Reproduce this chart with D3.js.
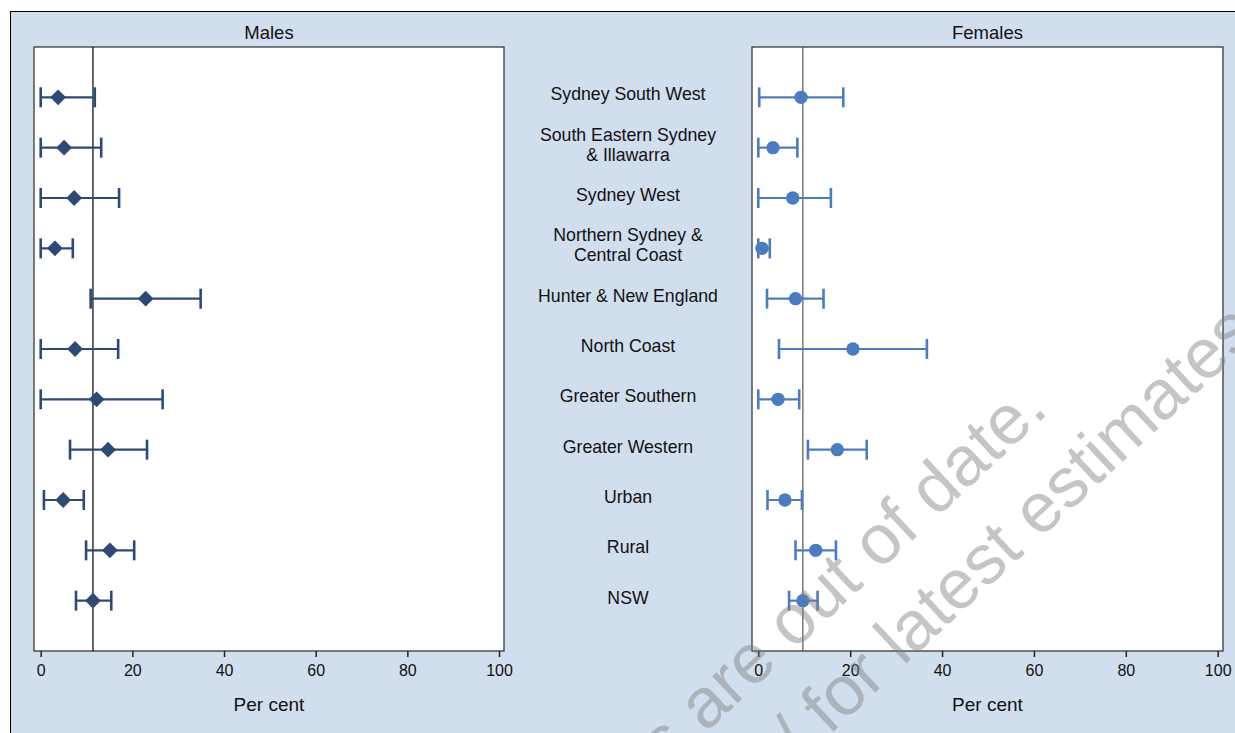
<!DOCTYPE html>
<html>
<head>
<meta charset="utf-8">
<script src="https://cdn.jsdelivr.net/npm/d3@7"></script>
<style>
  body { margin: 0; background: #fff; }
  svg text { font-family: "Liberation Sans", Arial, Helvetica, sans-serif; fill: #111; }
</style>
</head>
<body>
<svg width="1235" height="733"></svg>
<script>
// health areas, top to bottom (two-line labels split on \n)
const regions = [
  "Sydney South West",
  "South Eastern Sydney\n& Illawarra",
  "Sydney West",
  "Northern Sydney &\nCentral Coast",
  "Hunter & New England",
  "North Coast",
  "Greater Southern",
  "Greater Western",
  "Urban",
  "Rural",
  "NSW"
];

// estimates and 95% CI, per cent
const maleEst  = [3.8, 5.1, 7.3, 3.1, 22.9, 7.5, 12.2, 14.7, 4.9, 15.1, 11.4];
const maleLow  = [0, 0, 0, 0, 10.9, 0, 0, 6.4, 0.7, 9.9, 7.7];
const maleHigh = [11.8, 13.2, 17.1, 7.0, 34.9, 16.9, 26.6, 23.2, 9.4, 20.4, 15.4];

const femaleEst  = [9.3, 3.2, 7.5, 0.8, 8.1, 20.6, 4.3, 17.2, 5.8, 12.5, 9.7];
const femaleLow  = [0.2, 0, 0, 0, 1.9, 4.5, 0, 10.8, 2.0, 8.1, 6.7];
const femaleHigh = [18.5, 8.5, 15.8, 2.5, 14.2, 36.7, 8.9, 23.6, 9.5, 16.9, 12.9];

const xTicks = [0, 20, 40, 60, 80, 100];

const width = 1235;
const height = 733;
const plotTop = 47;
const plotBottom = 651;

const svg = d3.select('svg');

// light blue graph region with the black outer frame
svg.append('rect')
  .attr('x', 10.5).attr('y', 11.5)
  .attr('width', width).attr('height', height)
  .attr('fill', '#d1deed')
  .attr('stroke', '#000')
  .attr('stroke-width', 1);

const y = d3.scalePoint()
  .domain(regions)
  .range([plotTop, plotBottom])
  .padding(1);

function drawPanel(p) {
  const x = d3.scaleLinear().domain([0, 100]).range(p.range);
  const g = svg.append('g');

  g.append('rect')
    .attr('x', p.frame[0]).attr('y', plotTop)
    .attr('width', p.frame[1] - p.frame[0]).attr('height', plotBottom - plotTop)
    .attr('fill', '#fff')
    .attr('stroke', '#3a3a3a')
    .attr('stroke-width', 1.3);

  // NSW reference line
  const ref = p.est[p.est.length - 1];
  g.append('line')
    .attr('x1', x(ref)).attr('x2', x(ref))
    .attr('y1', plotTop).attr('y2', plotBottom)
    .attr('stroke', p.refColor)
    .attr('stroke-width', 1.2);

  const rows = regions.map((r, i) => ({ r, est: p.est[i], lo: p.low[i], hi: p.high[i] }));

  const bars = g.selectAll('.bar').data(rows).enter().append('g')
    .attr('stroke', p.color)
    .attr('stroke-width', 2.2);

  bars.append('line')
    .attr('x1', d => x(d.lo)).attr('x2', d => x(d.hi))
    .attr('y1', d => y(d.r)).attr('y2', d => y(d.r));
  bars.append('line')
    .attr('x1', d => x(d.lo)).attr('x2', d => x(d.lo))
    .attr('y1', d => y(d.r) - 10).attr('y2', d => y(d.r) + 10)
    .attr('stroke-width', 2.6);
  bars.append('line')
    .attr('x1', d => x(d.hi)).attr('x2', d => x(d.hi))
    .attr('y1', d => y(d.r) - 10).attr('y2', d => y(d.r) + 10)
    .attr('stroke-width', 2.6);

  g.selectAll('.pt').data(rows).enter().append('path')
    .attr('d', p.symbol)
    .attr('transform', d => `translate(${x(d.est)},${y(d.r)}) rotate(${p.rotate})`)
    .attr('fill', p.color);

  const axis = g.append('g')
    .attr('transform', `translate(0,${plotBottom})`)
    .call(d3.axisBottom(x).tickValues(xTicks).tickSize(6).tickPadding(8));
  axis.select('.domain').remove();
  axis.selectAll('.tick line').attr('stroke', '#222').attr('stroke-width', 1.5);
  axis.selectAll('.tick text')
    .attr('font-size', 16)
    .attr('font-family', '"Liberation Sans", Arial, sans-serif')
    .attr('fill', '#111');

  const mid = (p.frame[0] + p.frame[1]) / 2;
  g.append('text')
    .attr('x', mid).attr('y', 39)
    .attr('text-anchor', 'middle')
    .attr('font-size', 18.5)
    .text(p.title);

  g.append('text')
    .attr('x', mid).attr('y', 711)
    .attr('text-anchor', 'middle')
    .attr('font-size', 19)
    .text('Per cent');
}

drawPanel({
  title: 'Males', frame: [34, 504], range: [40.7, 499],
  est: maleEst, low: maleLow, high: maleHigh,
  color: '#2d4a77', refColor: '#000',
  symbol: d3.symbol().type(d3.symbolSquare).size(125)(), rotate: 45
});

drawPanel({
  title: 'Females', frame: [752, 1223], range: [758.3, 1217.7],
  est: femaleEst, low: femaleLow, high: femaleHigh,
  color: '#4a7cc2', refColor: '#555',
  symbol: d3.symbol().type(d3.symbolCircle).size(140)(), rotate: 0
});

// category labels between the panels
const labels = svg.append('g');
regions.forEach(r => {
  const lines = r.split('\n');
  lines.forEach((line, i) => {
    labels.append('text')
      .attr('x', 628)
      .attr('y', y(r) + 3 + (i - (lines.length - 1) / 2) * 20)
      .attr('text-anchor', 'middle')
      .attr('font-size', 17.7)
      .text(line);
  });
});

// "out of date" watermark (runs off the edges, as in the original)
const wm = svg.append('g')
  .attr('transform', 'translate(1050,412) rotate(-43)')
  .attr('opacity', 0.45);
wm.append('text')
  .attr('x', 0).attr('y', 0)
  .attr('text-anchor', 'end')
  .attr('font-size', 70)
  .style('fill', '#808080')
  .text('These estimates are out of date.');
wm.append('text')
  .attr('x', 205).attr('y', 86)
  .attr('text-anchor', 'end')
  .attr('font-size', 70)
  .style('fill', '#808080')
  .text('See www.health.nsw.gov.au/ for latest estimates');
</script>
</body>
</html>
